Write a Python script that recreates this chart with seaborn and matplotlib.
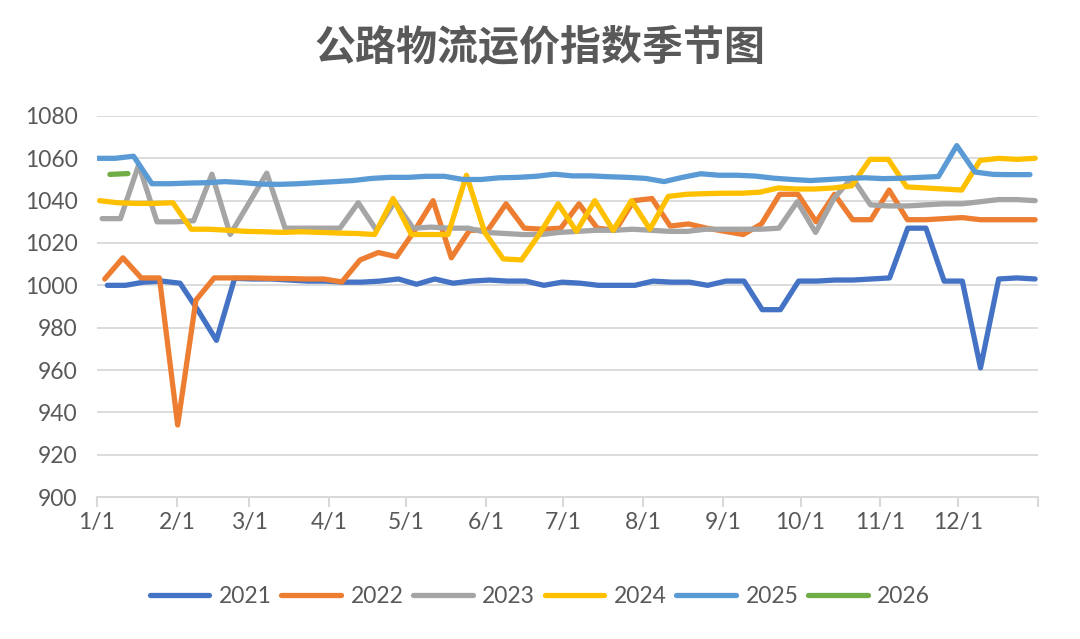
import pandas as pd
import matplotlib
matplotlib.use("Agg")
import matplotlib.pyplot as plt
import seaborn as sns

# weekly index values, one list per year
years = ["2021", "2022", "2023", "2024", "2025", "2026"]
starts = ["2021-01-05", "2022-01-04", "2023-01-03", "2024-01-02", "2025-01-01", "2026-01-06"]
ends = ["2021-12-31", "2022-12-31", "2023-12-31", "2024-12-30", "2025-12-29", "2026-01-13"]
colors = ["#4472C4", "#ED7D31", "#A5A5A5", "#FFC000", "#5B9BD5", "#70AD47"]

v2021 = [1000, 1000, 1001.5, 1002, 1001, 988, 974, 1003.3, 1003, 1003,
         1002.5, 1002, 1002, 1001.5, 1001.5, 1002, 1003, 1000.5, 1003, 1001,
         1002, 1002.5, 1002, 1002, 1000, 1001.5, 1001, 1000, 1000, 1000,
         1002, 1001.5, 1001.5, 1000, 1002, 1002, 988.5, 988.5, 1002, 1002,
         1002.5, 1002.5, 1003, 1003.5, 1027, 1027, 1002, 1002, 961, 1003,
         1003.5, 1003]
v2022 = [1003, 1013, 1003.5, 1003.5, 934, 993, 1003.5, 1003.5, 1003.5, 1003.3,
         1003.2, 1003, 1003, 1001.6, 1012, 1015.5, 1013.5, 1026, 1040, 1013,
         1026, 1026, 1038.5, 1027, 1026.5, 1027, 1038.5, 1027, 1026, 1040,
         1041, 1028, 1029, 1027, 1025.5, 1024, 1029, 1043, 1043, 1030,
         1043, 1031, 1031, 1045, 1031, 1031, 1031.5, 1032, 1031, 1031,
         1031, 1031]
v2023 = [1031.5, 1031.5, 1057, 1030, 1030, 1030.5, 1052.5, 1024, 1038.5, 1053,
         1027, 1027, 1027, 1027, 1039, 1026, 1039.5, 1027, 1027.5, 1027,
         1027, 1025, 1024.5, 1024, 1024, 1025, 1025.5, 1026, 1026, 1026.5,
         1026, 1025.5, 1025.5, 1026.5, 1026.5, 1026.5, 1026.5, 1027, 1039.5, 1025,
         1041, 1051, 1038, 1037.5, 1037.5, 1038, 1038.5, 1038.5, 1039.5, 1040.5,
         1040.5, 1040]
v2024 = [1040, 1039, 1038.7, 1038.7, 1039, 1026.5, 1026.5, 1026, 1025.5, 1025.3,
         1025, 1025.3, 1025, 1024.7, 1024.5, 1024, 1041, 1024, 1024, 1024,
         1052, 1025, 1012.5, 1012, 1024.5, 1038.5, 1025.5, 1040, 1026, 1040,
         1026.5, 1042, 1043, 1043.3, 1043.5, 1043.5, 1044, 1046, 1045.5, 1045.5,
         1046, 1047, 1059.5, 1059.5, 1046.5, 1046, 1045.5, 1045, 1059, 1060,
         1059.5, 1060]
v2025 = [1060, 1060, 1061, 1048, 1048, 1048.3, 1048.5, 1049, 1048.5, 1047.8,
         1047.7, 1048, 1048.5, 1049, 1049.5, 1050.5, 1051, 1051, 1051.5, 1051.5,
         1050, 1050, 1050.8, 1051, 1051.5, 1052.5, 1051.7, 1051.7, 1051.3, 1051,
         1050.5, 1049, 1051, 1052.7, 1052, 1052, 1051.6, 1050.6, 1050, 1049.5,
         1050, 1050.5, 1050.8, 1050.4, 1050.6, 1051, 1051.4, 1066, 1053.5, 1052.4,
         1052.3, 1052.3]
v2026 = [1052.4, 1052.8]

month_ticks = ["2021-01-01", "2021-02-01", "2021-03-01", "2021-04-01", "2021-05-01",
               "2021-06-01", "2021-07-01", "2021-08-01", "2021-09-01", "2021-10-01",
               "2021-11-01", "2021-12-01", "2022-01-01"]
tick_labels = ["1/1", "2/1", "3/1", "4/1", "5/1", "6/1", "7/1", "8/1",
               "9/1", "10/1", "11/1", "12/1", ""]

values = [v2021, v2022, v2023, v2024, v2025, v2026]
frames = []
for yr, s, e, vals in zip(years, starts, ends, values):
    dates = pd.date_range(s, e, periods=len(vals))
    day = (dates - pd.Timestamp(f"{yr}-01-01")) / pd.Timedelta(days=1)
    frames.append(pd.DataFrame({"day": day, "value": vals, "year": yr}))
df = pd.concat(frames, ignore_index=True)

sns.set_theme(style="white")
plt.rcParams["font.family"] = ["Lato", "Noto Sans CJK SC", "DejaVu Sans"]
text_color = "#595959"
grid_color = "#D9D9D9"

fig = plt.figure(figsize=(10.8, 6.39), dpi=100)
ax = fig.add_axes([0.0898, 0.2222, 0.871, 0.5963])

sns.lineplot(data=df, x="day", y="value", hue="year", palette=colors,
             estimator=None, linewidth=3.8, ax=ax,
             solid_capstyle="round", solid_joinstyle="round")

ax.set_xlim(0, 365)
ax.set_ylim(900, 1080)
ax.set_yticks(range(900, 1081, 20))
tick_pos = [(pd.Timestamp(t) - pd.Timestamp("2021-01-01")).days for t in month_ticks]
ax.set_xticks(tick_pos)
ax.set_xticklabels(tick_labels)
ax.set_xlabel("")
ax.set_ylabel("")

ax.grid(axis="y", color=grid_color, linewidth=1.3)
ax.set_axisbelow(True)
for side in ["top", "right", "left"]:
    ax.spines[side].set_visible(False)
ax.spines["bottom"].set_color(grid_color)
ax.spines["bottom"].set_linewidth(1.5)
ax.tick_params(axis="y", length=0, pad=14, labelsize=16.5, labelcolor=text_color)
ax.tick_params(axis="x", length=7, width=1.5, color=grid_color, pad=4,
               labelsize=16.5, labelcolor=text_color, bottom=True)

handles, labels = ax.get_legend_handles_labels()
ax.legend_.remove()
fig.legend(handles, labels, loc="center", bbox_to_anchor=(0.5, 0.067), ncol=6,
           frameon=False, fontsize=16.5, handlelength=2.6, handletextpad=0.42,
           columnspacing=0.42, labelcolor=text_color)

fig.text(0.5, 1 - 47 / 639, "公路物流运价指数季节图", ha="center", va="center",
         fontsize=29.5, color=text_color, fontweight="bold",
         family=["Noto Sans CJK SC", "DejaVu Sans"])

fig.savefig("out.png", dpi=100)
